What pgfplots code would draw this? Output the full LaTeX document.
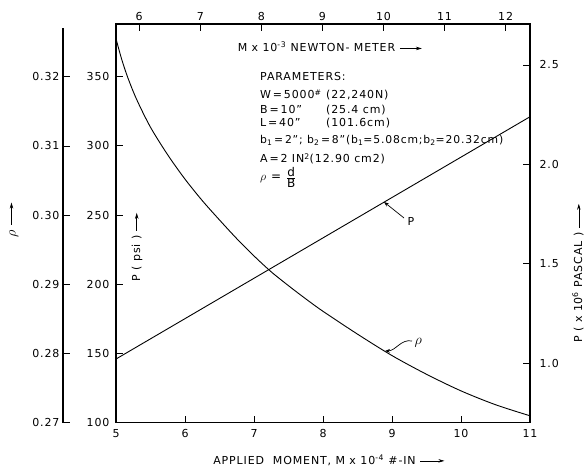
\documentclass[border=0pt]{standalone}
\usepackage{fontspec}
\setmainfont[LetterSpace=8]{DejaVu Sans}
\usepackage{pgfplots}
\pgfplotsset{compat=1.18}
\usetikzlibrary{arrows.meta}
\newcommand{\arr}[1][22pt]{\tikz[baseline=-0.55ex]\draw[line width=0.6pt,-{Stealth[length=6pt,width=3.5pt]}] (0,0)--(#1,0);}
\pgfplotsset{
  base/.style={width=414pt, height=398.7pt, scale only axis,
    tick align=inside, major tick length=7pt,
    axis line style={line width=1.1pt}, every tick/.style={line width=0.8pt, black},
    /pgf/number format/assume math mode=true,
    tick label style={font=\fontsize{11}{13}\selectfont}},
}
\begin{document}
\begin{tikzpicture}[font=\fontsize{11}{13}\selectfont]
\path[use as bounding box] (-116pt,-46.3pt) rectangle (472pt,422.7pt);

% main axis: P in psi against applied moment
\begin{axis}[base, xmin=5, xmax=11, ymin=100, ymax=388,
  xtick={5,...,11}, ytick={100,150,...,350},
  xtick pos=bottom, ytick pos=left,
  xticklabel style={yshift=-3pt}, yticklabel style={xshift=-3pt}]
\addplot[line width=0.9pt] coordinates {(5,146) (11,321)};
\end{axis}

% rho curve on the rho scale
\begin{axis}[base, hide axis, xmin=5, xmax=11, ymin=0.27, ymax=0.32762]
\addplot[line width=0.9pt, smooth] coordinates {
(5.00,0.3255) (5.08,0.3226) (5.17,0.3199) (5.30,0.3167) (5.50,0.3127)
(5.75,0.3087) (6.00,0.3052) (6.25,0.3021) (6.50,0.2993) (6.75,0.2966)
(7.00,0.2941) (7.25,0.2918) (7.50,0.2898) (7.75,0.2879) (8.00,0.2861)
(8.50,0.2828) (9.00,0.2797) (9.50,0.2770) (10.00,0.2746) (10.50,0.2726)
(11.00,0.2710)};
\end{axis}

% separate rho axis line
\begin{axis}[base, at={(-53pt,0pt)}, width=20pt, height=394.7pt,
  axis x line=none, axis y line*=left, y axis line style={-},
  xmin=0, xmax=1, ymin=0.27, ymax=0.32704,
  ytick={0.27,0.28,0.29,0.30,0.31,0.32},
  yticklabel style={/pgf/number format/.cd, fixed, fixed zerofill, precision=2}]
\end{axis}

% top axis: newton-meter
\begin{axis}[base, xmin=5.62, xmax=12.40, ymin=0, ymax=1,
  axis x line*=top, axis y line=none, xtick={6,...,12}]
\end{axis}

% right axis: pascal
\begin{axis}[base, xmin=0, xmax=1, ymin=0.701, ymax=2.706,
  axis y line*=right, axis x line=none, ytick={1.0,1.5,2.0,2.5},
  yticklabel style={xshift=6pt, /pgf/number format/.cd, fixed, fixed zerofill, precision=1}]
\end{axis}

% labels
\node[rotate=90, font=\fontsize{14}{16}\selectfont] at (-102pt,202.7pt) {$\rho$ \arr[22pt]};
\node[rotate=90] at (21pt,175.7pt) {P ( psi ) \arr[18pt]};
\node[rotate=90] at (462pt,149.7pt) {P ( x 10\textsuperscript{6} PASCAL ) \arr[24pt]};
\node at (213pt,-37.3pt) {APPLIED\ \ MOMENT, M x 10\textsuperscript{-4} \#-IN \arr[24pt]};
\node at (214pt,375.7pt) {M x 10\textsuperscript{-3} NEWTON- METER \arr};

% parameters block
\begin{scope}[every node/.style={anchor=base west, inner sep=0pt}]
\node at (144pt,341.7pt) {PARAMETERS:};
\node at (144pt,323.7pt) {W\,=\,5000\textsuperscript{\#}};
\node at (210pt,323.7pt) {(22,240N)};
\node at (144pt,308.7pt) {B\,=\,10"};
\node at (210pt,308.7pt) {(25.4 cm)};
\node at (144pt,295.7pt) {L\,=\,40"};
\node at (210pt,295.7pt) {(101.6cm)};
\node[font=\fontsize{10.8}{12}\selectfont] at (144pt,278.7pt) {b\textsubscript{1}\,=\,2"; b\textsubscript{2}\,=\,8"(b\textsubscript{1}=5.08cm;b\textsubscript{2}=20.32cm)};
\node at (144pt,259.7pt) {A\,=\,2 IN\textsuperscript{2}(12.90 cm2)};
\end{scope}
\node[anchor=west, inner sep=0pt, font=\fontsize{12}{14}\selectfont] at (144pt,245.7pt) {$\rho$ = $\frac{\mbox{d}}{\mbox{B}}$};

% curve callouts
\draw[line width=0.7pt, -{Stealth[length=5pt]}] (288pt,204.7pt) -- (268pt,220.7pt);
\node[anchor=west] at (288pt,201.7pt) {P};
\draw[line width=0.7pt, -{Stealth[length=5pt]}] (296pt,81.7pt) .. controls (285pt,84pt) and (280pt,72pt) .. (269pt,71.7pt);
\node[anchor=west, font=\fontsize{14}{16}\selectfont] at (295pt,79.7pt) {$\rho$};
\end{tikzpicture}
\end{document}
